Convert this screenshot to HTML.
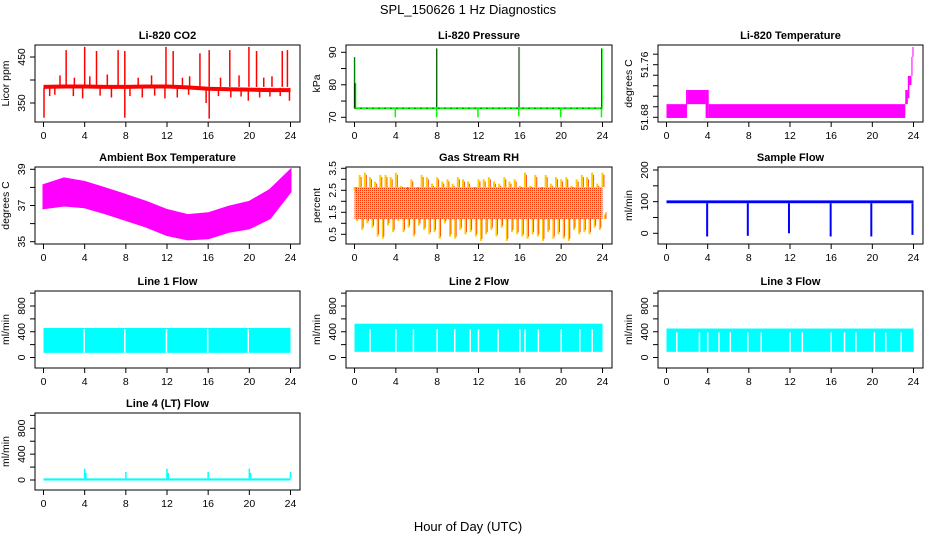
<!DOCTYPE html>
<html><head><meta charset="utf-8"><style>
body{margin:0;background:#fff;}
svg{display:block;font-family:"Liberation Sans",sans-serif;}
</style></head><body>
<svg id="chart" width="936" height="540" viewBox="0 0 936 540" xmlns="http://www.w3.org/2000/svg">
<defs>
<pattern id="rhpat" width="2" height="2" patternUnits="userSpaceOnUse"><rect width="2" height="2" fill="#ffcc00"/><rect width="1" height="1" fill="#ff3300"/></pattern>
</defs>
<text x="468" y="14" font-size="13" text-anchor="middle">SPL_150626  1 Hz Diagnostics</text>
<text x="468" y="531" font-size="13" text-anchor="middle">Hour of Day (UTC)</text>
</svg>
<script>
// ---- data ----
const xTicks = [0,4,8,12,16,20,24];
const co2BaseHours = [0,2,4,6,8,10,12,14,16,18,20,22,24];
const co2BaseValues = [385,386,386,385,385,386,386,384,381,380,379,378,378];
const co2SpikeHours = [2.2,4.0,5.15,7.25,7.9,11.9,12.6,15.2,16.1,18.1,19.96,20.7,23.2,23.7,1.6,3.0,4.5,6.2,9.2,10.5,13.5,14.2,17.2,19.0,21.4,22.2];
const co2SpikeValues = [465,472,463,465,463,472,463,458,465,465,472,463,463,465,410,405,408,412,405,410,405,408,405,410,405,408];
const co2DipHours = [0.05,0.6,1.1,2.9,3.8,5.5,6.6,7.9,8.4,9.6,10.8,11.8,13.0,14.1,15.8,16.1,17.0,18.2,19.2,19.9,21.0,22.0,23.0,23.9];
const co2DipValues = [318,365,368,365,360,366,362,318,365,362,366,360,362,368,350,316,365,362,364,355,362,364,365,355];
const presBase = 72.8;
const presSpikeHours = [0.02,0.1,7.98,15.95,23.95];
const presSpikeValues = [88.5,80.5,91.2,91.6,91.2];
const presDipHours = [3.95,7.95,11.95,15.9,19.95,23.9];
const presDipValues = [70,70,70,70.3,70,70];
const tempSegStart = [0.0,1.9,2.0,3.8,4.1,23.2,23.45,23.6,23.8,23.9];
const tempSegEnd = [1.9,2.0,3.8,4.1,23.2,23.45,23.6,23.8,23.9,24.0];
const tempSegLow = [51.679,51.679,51.700,51.679,51.679,51.700,51.709,51.729,51.743,51.772];
const tempSegHigh = [51.700,51.7215,51.7215,51.7215,51.700,51.7215,51.743,51.743,51.772,51.787];
const ambHours = [0,2,4,6,8,10,12,14,16,18,20,22,24];
const ambUpper = [38.13,38.5,38.3,37.95,37.58,37.2,36.75,36.47,36.57,36.93,37.2,37.86,38.96];
const ambLower = [36.85,37.0,36.9,36.57,36.2,35.83,35.37,35.13,35.19,35.55,35.74,36.3,37.76];
const rhHigh = [2.5,3.2,3.3,3.1,2.9,3.2,3.2,3.1,3.3,2.7,2.6,3.0,2.6,3.2,3.1,2.8,3.1,2.9,3.0,2.8,3.1,3.0,2.9,2.6,3.0,3.0,3.1,2.9,2.8,3.1,2.9,3.0,2.7,3.3,2.7,3.2,2.6,3.2,2.8,3.1,3.0,3.1,2.7,3.0,3.2,3.1,3.3,2.8,3.3];
const rhLow = [1.1,0.7,1.0,0.8,0.4,0.3,0.9,0.6,1.1,0.6,0.8,0.4,0.9,0.7,0.5,0.6,0.3,1.0,0.4,0.3,0.7,0.5,0.6,0.4,0.2,0.5,0.7,0.4,0.8,0.2,0.6,0.5,0.4,0.3,0.5,0.4,0.2,0.6,0.3,0.5,0.3,0.2,0.7,0.5,0.6,0.5,0.8,0.7,1.4];
const rhCoreLow = 1.2, rhCoreHigh = 2.65;
const sfLow = 95, sfHigh = 104;
const sfDipHours = [3.95,7.9,11.9,15.95,19.9,23.9];
const sfDipValues = [-10,-8,0,-10,-10,-5];
const l1Low = 72, l1High = 458;
const l1Gaps = [3.95,7.9,11.95,15.95,19.9];
const l2Low = 88, l2High = 525;
const l2Gaps = [1.5,4.0,5.7,8.0,9.7,11.2,12.0,13.9,16.0,16.5,17.8,20.0,21.8,23.0];
const l3Low = 88, l3High = 450;
const l3Gaps = [1.0,3.2,4.0,5.1,6.2,7.9,9.2,12.0,13.2,16.0,17.3,18.4,20.2,21.3,22.8];
const l4Low = -8, l4High = 25;
const l4SpikeHours = [4.0,4.12,8.0,12.0,12.12,16.0,20.0,20.12,24.0];
const l4SpikeValues = [175,110,125,175,110,125,175,110,125];

// ---- layout ----
const svg = document.getElementById('chart');
const NS = 'http://www.w3.org/2000/svg';
const colX = [[35,300],[346,612],[658,923]];
const rowY = [45,167,291,413];
const BOXH = 77;
function mk(tag, attrs, parent){const e=document.createElementNS(NS,tag);for(const k in attrs)e.setAttribute(k,attrs[k]);(parent||svg).appendChild(e);return e;}
function panel(col,row,title,ylab,v1,p1,v2,p2,ticks,labels,name){
  const L=colX[col][0],R=colX[col][1],T=rowY[row];
  const g=mk('g',{});
  
  
  const xs=h=>L+8.5+h*(R-L-18)/24;
  const ys=v=>T+p1+(v-v1)*(p2-p1)/(v2-v1);
  const plot=mk('g',{},g);
  
  
  const box=mk('rect',{x:L,y:T,width:R-L,height:BOXH,fill:'none',stroke:'#000','stroke-width':1},g);
  
  
  const t=mk('text',{x:(L+R)/2,y:T-6,'font-size':11,'font-weight':'bold','text-anchor':'middle'},g);
  t.textContent=title;
  
  
  mk('line',{x1:xs(0),x2:xs(24),y1:T+BOXH,y2:T+BOXH,stroke:'#000'},g);
  xTicks.forEach(h=>{
    mk('line',{x1:xs(h),x2:xs(h),y1:T+BOXH,y2:T+BOXH+5,stroke:'#000'},g);
    const lt=mk('text',{x:xs(h),y:T+BOXH+17,'font-size':10.5,'text-anchor':'middle'},g);
    lt.textContent=h;
    
    
  });
  mk('line',{x1:L,x2:L,y1:ys(ticks[0]),y2:ys(ticks[ticks.length-1]),stroke:'#000'},g);
  ticks.forEach((v,i)=>{
    const y=ys(v);
    mk('line',{x1:L-5,x2:L,y1:y,y2:y,stroke:'#000'},g);
    if(labels[i]){const lt=mk('text',{x:L-10,y:y,'font-size':10.5,'text-anchor':'middle',transform:`rotate(-90 ${L-10} ${y})`},g);lt.textContent=labels[i];
      
      }
  });
  const yl=mk('text',{x:L-26,y:T+BOXH/2,'font-size':10.5,'text-anchor':'middle',transform:`rotate(-90 ${L-26} ${T+BOXH/2})`},g);
  yl.textContent=ylab;
  
  
  return {xs,ys,plot};
}
function vline(p,x,y1,y2,c,w){mk('line',{x1:x,x2:x,y1:y1,y2:y2,stroke:c,'stroke-width':w||1},p);}
function rect(p,x1,x2,y1,y2,c){mk('rect',{x:Math.min(x1,x2),y:Math.min(y1,y2),width:Math.abs(x2-x1),height:Math.abs(y2-y1),fill:c},p);}

// CO2
{const {xs,ys,plot}=panel(0,0,'Li-820 CO2','Licor ppm',350,58,450,12,[350,400,450],['350','','450'],'co2');
 co2SpikeHours.forEach((h,i)=>vline(plot,xs(h),ys(co2BaseValues[0]),ys(co2SpikeValues[i]),'#ff0000',1.5));
 co2DipHours.forEach((h,i)=>vline(plot,xs(h),ys(383),ys(co2DipValues[i]),'#ff0000',1.5));
 let pts=co2BaseHours.map((h,i)=>xs(h)+','+ys(co2BaseValues[i])).join(' ');
 mk('polyline',{points:pts,fill:'none',stroke:'#ff0000','stroke-width':4},plot);}
// Pressure
{const {xs,ys,plot}=panel(1,0,'Li-820 Pressure','kPa',70,72.3,90,7.3,[70,75,80,85,90],['70','','80','','90'],'pressure');
 presSpikeHours.forEach((h,i)=>{vline(plot,xs(h),ys(presBase),ys(presSpikeValues[i]),'#00ff00',1.5);vline(plot,xs(h)-0.5,ys(presBase),ys(presSpikeValues[i]),'#000',0.6);});
 presDipHours.forEach((h,i)=>vline(plot,xs(h),ys(presBase),ys(presDipValues[i]),'#00ff00',1.5));
 mk('line',{x1:xs(0),x2:xs(24),y1:ys(presBase),y2:ys(presBase),stroke:'#00ff00','stroke-width':2},plot);
 mk('line',{x1:xs(0),x2:xs(24),y1:ys(presBase),y2:ys(presBase),stroke:'#000','stroke-width':1,'stroke-dasharray':'1 5'},plot);}
// Temperature
{const {xs,ys,plot}=panel(2,0,'Li-820 Temperature','degrees C',51.68,72.3,51.76,19.7,[51.68,51.696,51.712,51.728,51.744,51.76,51.776],['51.68','','','','','51.76',''],'li820-temp');
 tempSegStart.forEach((s,i)=>rect(plot,xs(s),xs(tempSegEnd[i]),ys(tempSegLow[i]),ys(tempSegHigh[i]),'#ff00ff'));}
// Ambient
{const {xs,ys,plot}=panel(0,1,'Ambient Box Temperature','degrees C',35,74.7,39,2.3,[35,36,37,38,39],['35','','37','','39'],'ambient');
 const up=ambHours.map((h,i)=>xs(h)+','+ys(ambUpper[i]));
 const lo=ambHours.map((h,i)=>xs(h)+','+ys(ambLower[i])).reverse();
 mk('polygon',{points:up.concat(lo).join(' '),fill:'#ff00ff',stroke:'#ff00ff','stroke-width':2},plot);}
// RH
{const {xs,ys,plot}=panel(1,1,'Gas Stream RH','percent',0.5,67.3,3.5,1.3,[0.5,1,1.5,2,2.5,3,3.5],['0.5','','1.5','','2.5','','3.5'],'rh');
 rect(plot,xs(0),xs(24),ys(rhCoreLow),ys(rhCoreHigh),'url(#rhpat)');
 rhHigh.forEach((v,i)=>{const x=xs(i*0.5);vline(plot,x,ys(rhCoreHigh),ys(v),'#ffcc00',2);vline(plot,x+1.5,ys(rhCoreHigh),ys(v-0.1),'#ff3300',0.8);
   vline(plot,x+2.5,ys(rhCoreLow),ys(rhLow[i]),'#ffcc00',2);vline(plot,x+3.5,ys(rhCoreLow),ys(rhLow[i]+0.1),'#ff3300',0.8);});}
// Sample flow
{const {xs,ys,plot}=panel(2,1,'Sample Flow','ml/min',0,66.3,200,3,[0,50,100,150,200],['0','','100','','200'],'sample-flow');
 rect(plot,xs(0),xs(24),ys(sfLow),ys(sfHigh),'#0000ff');
 sfDipHours.forEach((h,i)=>{vline(plot,xs(h),ys(sfLow),ys(sfDipValues[i]),'#0000ff',2);});}
// Flow lines
const fT=[0,200,400,600,800,1000], fL=['0','','400','','800',''];
function flow(col,row,title,lo,hi,gaps,name,gapTop){
 const {xs,ys,plot}=panel(col,row,title,'ml/min',0,66.5,800,15,fT,fL,name);
 rect(plot,xs(0),xs(24),ys(lo),ys(hi),'#00ffff');
 gaps.forEach(h=>vline(plot,xs(h),ys(gapTop),ys(lo),'#ffffff',1.5));
}
flow(0,2,'Line 1 Flow',l1Low,l1High,l1Gaps,'line1-flow',l1High-15);
flow(1,2,'Line 2 Flow',l2Low,l2High,l2Gaps,'line2-flow',440);
flow(2,2,'Line 3 Flow',l3Low,l3High,l3Gaps,'line3-flow',390);
{const {xs,ys,plot}=panel(0,3,'Line 4 (LT) Flow','ml/min',0,67,800,15.3,fT,fL,'line4-flow');
 rect(plot,xs(0),xs(24),ys(l4Low),ys(l4High),'#00ffff');
 l4SpikeHours.forEach((h,i)=>vline(plot,xs(h),ys(l4High),ys(l4SpikeValues[i]),'#00ffff',1.5));}
</script>
</body></html>
